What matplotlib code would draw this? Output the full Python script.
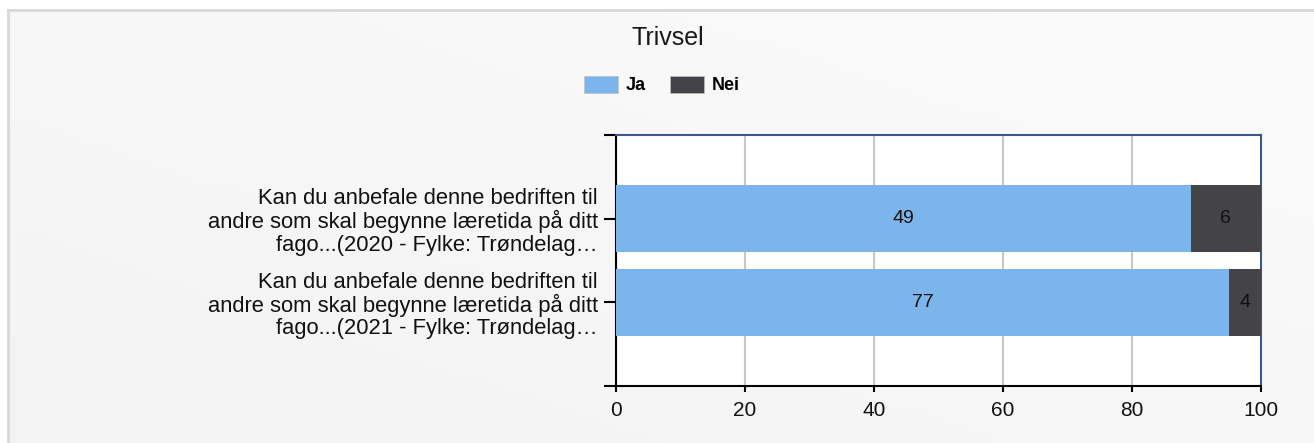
import numpy as np
import matplotlib
matplotlib.use("Agg")
import matplotlib.pyplot as plt
from matplotlib.patches import Patch

plt.rcParams['font.family'] = ['Liberation Sans', 'DejaVu Sans']

title = "Trivsel"
categories = [
    "Kan du anbefale denne bedriften til\nandre som skal begynne læretida på ditt\nfago...(2020 - Fylke: Trøndelag…",
    "Kan du anbefale denne bedriften til\nandre som skal begynne læretida på ditt\nfago...(2021 - Fylke: Trøndelag…",
]
series_names = ["Ja", "Nei"]
ja = np.array([49, 77])
nei = np.array([6, 4])
colors = ["#7CB5EC", "#434348"]
xticks = [0, 20, 40, 60, 80, 100]

total = ja + nei
ja_pct = ja / total * 100
nei_pct = nei / total * 100

W, H = 1314, 443
fig = plt.figure(figsize=(W / 100, H / 100), dpi=100)
fig.patch.set_facecolor("white")

# background panel with subtle gradient
bg = fig.add_axes([8 / W, 0, 1.0, 1 - 10 / H], zorder=-10)
gx = np.linspace(0, 1, 200)
gy = np.linspace(0, 1, 60)
GX, GY = np.meshgrid(gx, gy)
grad = 0.5 * GX + 0.5 * (1 - GY)
bg.imshow(grad, cmap=matplotlib.colors.LinearSegmentedColormap.from_list("g", ["#f3f3f3", "#fbfbfb"]),
          aspect="auto", extent=[0, 1, 0, 1], origin="upper")
bg.set_xlim(0, 1); bg.set_ylim(0, 1)
bg.set_xticks([]); bg.set_yticks([])
for s in ["right", "bottom"]:
    bg.spines[s].set_visible(False)
for s in ["left", "top"]:
    bg.spines[s].set_color("#d8d8d8")
    bg.spines[s].set_linewidth(2)

left, right, top, bottom = 616, 1261, 135, 386
ax = fig.add_axes([left / W, 1 - bottom / H, (right - left) / W, (bottom - top) / H])
ax.set_facecolor("white")

y = np.arange(len(categories))
h = 0.8
b1 = ax.barh(y, ja_pct, height=h, color=colors[0], label=series_names[0], zorder=3)
b2 = ax.barh(y, nei_pct, left=ja_pct, height=h, color=colors[1], label=series_names[1], zorder=3)

for bars, vals in ((b1, ja), (b2, nei)):
    ax.bar_label(bars, labels=[str(v) for v in vals], label_type="center", fontsize=14, color="#111111")

ax.set_xlim(0, 100)
ax.set_ylim(len(categories), -1)
ax.set_xticks(xticks)
ax.set_xticklabels([str(t) for t in xticks], fontsize=15, color="#111111")
ax.set_yticks([-1] + list(y) + [len(categories)])
ax.set_yticklabels([""] + categories + [""], fontsize=15.8, color="#111111")
for lab in ax.get_yticklabels():
    lab.set_linespacing(1.08)
ax.tick_params(axis="y", length=9, width=1.5, pad=4, color="black")
ax.tick_params(axis="x", length=4, width=1.5, pad=7, color="black")
ax.grid(axis="x", color="#c8c8c8", linewidth=1.5, zorder=0)
ax.set_axisbelow(True)
for s in ["left", "bottom"]:
    ax.spines[s].set_color("black")
    ax.spines[s].set_linewidth(1.5)
for s in ["top", "right"]:
    ax.spines[s].set_color("#3b5a88")
    ax.spines[s].set_linewidth(1.5)

fig.text(668 / W, 1 - 38 / H, title, ha="center", va="center", fontsize=18, color="#1a1a1a")

handles = [Patch(facecolor=c, edgecolor="#c0c0c0", linewidth=0.5) for c in colors]
fig.legend(handles, series_names, loc="center", bbox_to_anchor=(662 / W, 1 - 85 / H), ncol=2,
           frameon=False, handlelength=1.9, handleheight=1.1, handletextpad=0.45,
           columnspacing=1.3, prop={"weight": "semibold", "size": 13})

fig.savefig("out.png", dpi=100)
